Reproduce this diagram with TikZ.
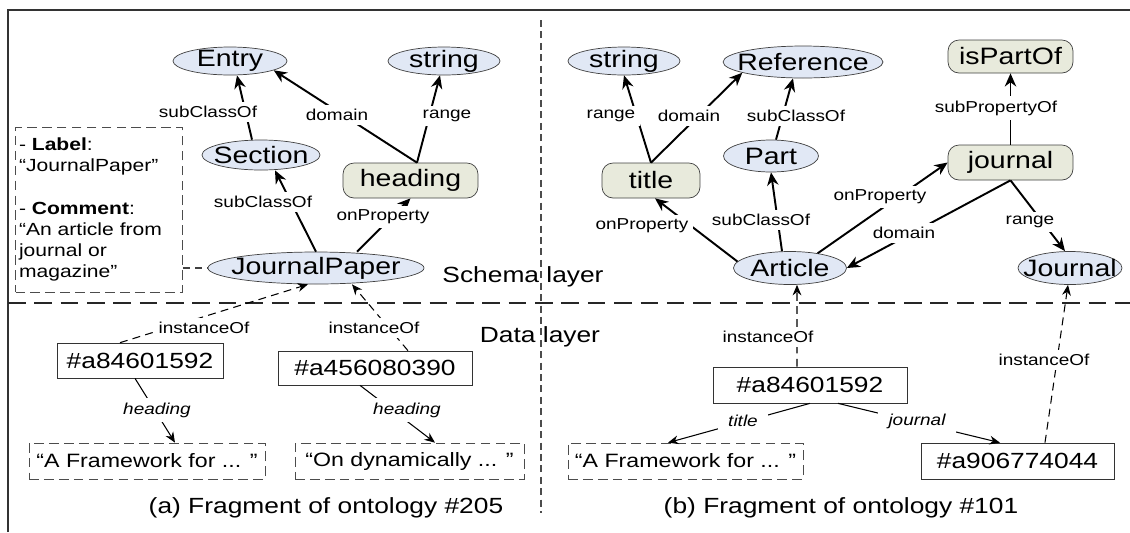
\documentclass[tikz,border=0pt]{standalone}
\usepackage{fontspec}
\setmainfont{Liberation Sans}[FakeStretch=1.2]
\usetikzlibrary{shapes.geometric,arrows.meta}
\definecolor{clsfill}{RGB}{225,232,245}
\definecolor{propfill}{RGB}{232,234,220}
\tikzset{
  cls/.style={ellipse, draw=black!75, fill=clsfill, inner xsep=-6pt, inner ysep=-2pt,
    minimum height=0.6cm, font=\fontsize{13.5}{15}\selectfont},
  prop/.style={rectangle, rounded corners=0.22cm, draw=black!75, fill=propfill,
    minimum height=0.7cm, font=\fontsize{13.5}{15}\selectfont},
  inst/.style={rectangle, draw=black!80, fill=white, minimum height=0.7cm,
    font=\fontsize{12.5}{14}\selectfont},
  lit/.style={rectangle, draw=black!70, dash pattern=on 5.5pt off 3pt,
    minimum height=0.72cm, font=\fontsize{11}{13}\selectfont},
  elbl/.style={fill=white, inner sep=2.5pt, font=\fontsize{9}{10}\selectfont},
  dlbl/.style={elbl, inner xsep=6pt, font=\fontsize{9}{10}\selectfont\itshape},
  sarr/.style={-{Stealth[length=7.5pt,width=6.5pt]}, line width=1.1pt},
  darr/.style={-{Stealth[length=6pt,width=5pt]}, line width=0.6pt},
  iarr/.style={darr, dash pattern=on 4.5pt off 3pt},
  caption/.style={font=\fontsize{12.5}{14}\selectfont},
}
\begin{document}
\begin{tikzpicture}[x=0.02cm, y=-0.02cm]
\useasboundingbox (0,0) rectangle (1130,532);
% frame and layers
\draw[black!80, line width=1.3pt] (8,532) |- (1130,10);
\draw[black!85, line width=1.4pt, dash pattern=on 10pt off 5pt] (8,303) -- (1130,303);
\draw[black!70, line width=0.7pt, dash pattern=on 4pt off 2.5pt] (541,20) -- (541,513);
\node[caption] (schema) at (523,277) {Schema layer};
\node[caption] (data) at (540,337) {Data layer};

% (a) ontology #205
\node[cls, minimum width=2.28cm, minimum height=0.56cm] (entry) at (230,61) {Entry};
\node[cls, minimum width=2.24cm, minimum height=0.56cm] (str1) at (444,61) {string};
\node[cls, minimum width=2.36cm] (sec) at (261,155) {Section};
\node[prop, minimum width=2.7cm] (head) at (410.5,180.5) {heading};
\node[cls, minimum width=4.32cm, minimum height=0.64cm] (jp) at (316,268) {JournalPaper};
\node[rectangle, draw=black!70, dash pattern=on 5.5pt off 3pt, minimum width=3.32cm,
  minimum height=3.3cm, text width=3.2cm, align=left, inner sep=2pt,
  font=\fontsize{10}{12}\selectfont] (cmt) at (99,209.5)
  {- \textbf{Label}:\\“JournalPaper"\\[12pt]- \textbf{Comment}:\\“An article from\\journal or\\magazine"};
\node[inst, minimum width=3.32cm] (id1) at (140,360.5) {\#a84601592};
\node[inst, minimum width=3.88cm, minimum height=0.68cm] (id2) at (375,368) {\#a456080390};
\node[lit, minimum width=4.72cm] (lit1) at (147,461) {“A Framework for ... ”};
\node[lit, minimum width=4.58cm] (lit2) at (409.5,461) {“On dynamically ... ”};

\draw[sarr] ([xshift=-0.18cm]sec.north) -- ([xshift=0.14cm]entry.south)
  node[elbl] (l1) at (208,112) {subClassOf};
\draw[sarr] ([xshift=0.13cm]head.north) -- (entry.-12)
  node[elbl] (l2) at (337,115) {domain};
\draw[sarr] ([xshift=0.13cm]head.north) -- ([xshift=-0.08cm]str1.south)
  node[elbl] (l3) at (447,116) {range};
\draw[sarr] (jp.north) -- ([xshift=0.28cm]sec.south)
  node[elbl] (l4) at (263,202) {subClassOf};
\draw[sarr] ([xshift=0.82cm]jp.north) -- (head.south)
  node[elbl] (l5) at (383,217) {onProperty};
\draw[black!75, line width=0.7pt, dash pattern=on 4pt off 3pt] (cmt.east |- jp.west) -- (jp.west);
\draw[iarr] ([xshift=-0.4cm]id1.north) -- ([xshift=-0.16cm]jp.south)
  node[elbl] (l6) at (204,328) {instanceOf};
\draw[iarr] ([xshift=0.66cm]id2.north) -- ([xshift=0.72cm]jp.south)
  node[elbl] (l7) at (374,328) {instanceOf};
\draw[darr] ([xshift=-0.1cm]id1.south) -- ([xshift=0.56cm]lit1.north)
  node[dlbl] (l8) at (157,410) {heading};
\draw[darr] ([xshift=-0.3cm]id2.south) -- ([xshift=0.51cm]lit2.north)
  node[dlbl] (l9) at (407,410) {heading};

% (b) ontology #101
\node[cls, minimum width=2.24cm, minimum height=0.56cm] (str2) at (624,61) {string};
\node[cls, minimum width=3.2cm, minimum height=0.64cm] (ref) at (803,62) {Reference};
\node[prop, minimum width=2.5cm, minimum height=0.66cm] (ispo) at (1010.5,56.5) {isPartOf};
\node[prop, minimum width=1.96cm] (title) at (651,180.5) {title};
\node[cls, minimum width=1.9cm, minimum height=0.64cm] (part) at (771,156) {Part};
\node[prop, minimum width=2.5cm] (jour) at (1010.5,162.5) {journal};
\node[cls, minimum width=2.26cm, minimum height=0.66cm] (art) at (790,268) {Article};
\node[cls, minimum width=2.08cm, minimum height=0.66cm] (jnl) at (1070,268) {Journal};
\node[inst, minimum width=3.88cm, minimum height=0.72cm] (id3) at (810,385) {\#a84601592};
\node[inst, minimum width=3.86cm, minimum height=0.72cm] (id4) at (1017.5,461) {\#a906774044};
\node[lit, minimum width=4.7cm] (lit3) at (685.5,461) {“A Framework for ... ”};

\draw[sarr] (title.north) -- (str2.south)
  node[elbl] (m1) at (611,116) {range};
\draw[sarr] (title.north) -- (ref.190)
  node[elbl] (m2) at (689,116) {domain};
\draw[sarr] ([xshift=0.1cm]part.north) -- ([xshift=-0.2cm]ref.south)
  node[elbl] (m3) at (796,116) {subClassOf};
\draw[sarr] ([xshift=-0.16cm]art.north) -- (part.south)
  node[elbl] (m4) at (761,220) {subClassOf};
\draw[sarr] (art.173) -- ([xshift=0.08cm]title.south)
  node[elbl] (m5) at (642,226) {onProperty};
\draw[sarr] (art.28) -- (jour.west)
  node[elbl] (m6) at (880,197) {onProperty};
\draw[sarr] (jour.south) -- (art.east)
  node[elbl] (m7) at (904,233) {domain};
\draw[sarr] (jour.north) -- (ispo.south)
  node[elbl] (m8) at (996,108) {subPropertyOf};
\draw[sarr] (jour.south) -- ([xshift=-0.1cm]jnl.north)
  node[elbl] (m9) at (1030,222) {range};
\draw[iarr] ([xshift=-0.26cm]id3.north) -- ([xshift=0.14cm]art.south)
  node[elbl] (m10) at (768,337) {instanceOf};
\draw[iarr] ([xshift=0.55cm]id4.north) -- ([xshift=-0.04cm]jnl.south)
  node[elbl] (m11) at (1044,360) {instanceOf};
\draw[darr] (id3.south) -- ([xshift=-0.35cm]lit3.north)
  node[dlbl] (m12) at (743,421) {title};
\draw[darr] ([xshift=0.56cm]id3.south) -- ([xshift=-0.35cm]id4.north)
  node[dlbl] (m13) at (917,421) {journal};

\node[caption] (capa) at (326,508) {(a) Fragment of ontology \#205};
\node[caption] (capb) at (841,508) {(b) Fragment of ontology \#101};
\end{tikzpicture}
\end{document}
